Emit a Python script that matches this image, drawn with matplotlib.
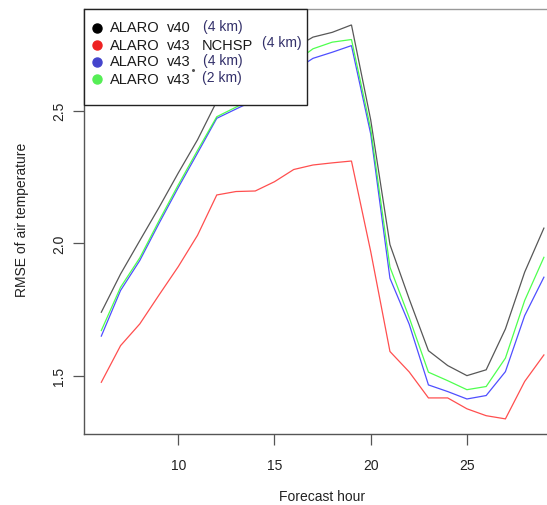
import matplotlib
matplotlib.use("Agg")
import matplotlib.pyplot as plt
from matplotlib.patches import Rectangle

plt.rcParams["font.family"] = ["Liberation Sans", "DejaVu Sans"]

hours = list(range(6, 30))
alaro_v40_4km = [1.740, 1.884, 2.010, 2.135, 2.265, 2.390, 2.535, 2.600, 2.650, 2.700, 2.735,
                 2.777, 2.795, 2.823, 2.465, 1.995, 1.790, 1.595, 1.539, 1.501, 1.523, 1.677,
                 1.891, 2.057]
alaro_v43_nchsp = [1.476, 1.614, 1.696, 1.805, 1.912, 2.030, 2.182, 2.195, 2.197, 2.232, 2.278,
                   2.295, 2.303, 2.310, 1.969, 1.592, 1.515, 1.417, 1.417, 1.376, 1.350, 1.338,
                   1.479, 1.579]
alaro_v43_4km = [1.650, 1.822, 1.935, 2.075, 2.210, 2.340, 2.471, 2.506, 2.540, 2.590, 2.650,
                 2.697, 2.720, 2.745, 2.412, 1.868, 1.695, 1.466, 1.441, 1.413, 1.426, 1.516,
                 1.727, 1.872]
alaro_v43_2km = [1.671, 1.834, 1.945, 2.085, 2.220, 2.350, 2.477, 2.513, 2.550, 2.610, 2.680,
                 2.733, 2.758, 2.768, 2.431, 1.910, 1.720, 1.514, 1.482, 1.448, 1.460, 1.567,
                 1.784, 1.947]

legend_model = ["ALARO", "ALARO", "ALARO", "ALARO"]
legend_version = ["v40", "v43", "v43", "v43"]
legend_extra = ["", "NCHSP", "", ""]
legend_res = ["(4 km)", "(4 km)", "(4 km)", "(2 km)"]
line_colors = ["#3a3a3a", "#ff3030", "#3030ff", "#30ff30"]
dot_colors = ["#000000", "#ee2222", "#4444cc", "#55ee55"]

xticks = [10, 15, 20, 25]
yticks = [1.5, 2.0, 2.5]

W, H = 547, 506
fig = plt.figure(figsize=(W / 100, H / 100), dpi=100)

def fx(px):
    return px / W

def fy(py):
    return 1 - py / H

ax_left, ax_right, ax_top, ax_bottom = 83.6, 561.6, 10, 435
ax = fig.add_axes([fx(ax_left), fy(ax_bottom), (ax_right - ax_left) / W, (ax_bottom - ax_top) / H])

series = [alaro_v40_4km, alaro_v43_nchsp, alaro_v43_4km, alaro_v43_2km]
for vals, c in zip(series, line_colors):
    ax.plot(hours, vals, color=c, lw=0.9, alpha=0.85, solid_joinstyle="miter")

ax.set_xlim(5.08, 29.92)
ax.set_ylim(1.281, 2.883)
ax.set_xticks(xticks)
ax.set_xticklabels([str(t) for t in xticks])
ax.set_yticks(yticks)
ax.set_yticklabels([f"{t:.1f}" for t in yticks], rotation=90, va="center")
ax.tick_params(axis="both", direction="out", length=8, width=0.9, color="#555555",
               labelsize=10, labelcolor="#222222")
ax.tick_params(axis="x", pad=9)
ax.tick_params(axis="y", pad=4.5)
for s in ["left", "bottom"]:
    ax.spines[s].set_color("#555555")
    ax.spines[s].set_linewidth(1.0)
ax.spines["top"].set_color("#999999")
ax.spines["top"].set_linewidth(1.0)
ax.spines["right"].set_visible(False)

fig.text(fx(322), fy(497), "Forecast hour", ha="center", va="center", fontsize=10, color="#222222")
fig.text(fx(22), fy(220), "RMSE of air temperature", ha="center", va="center",
         rotation=90, fontsize=10, color="#222222")

# legend box
rect = Rectangle((fx(83.6), fy(106)), fx(307) - fx(83.6), fy(10) - fy(106),
                 transform=fig.transFigure, facecolor="white", edgecolor="#222222",
                 linewidth=1.0, zorder=5)
fig.add_artist(rect)

row_y = [28.5, 45.5, 62.5, 79.5]
res_x = [203, 261.5, 203, 201.5]
res_dy = [-1.5, -2.5, -1.5, -1.5]
for i in range(4):
    fig.add_artist(plt.Line2D([fx(96.5)], [fy(row_y[i])], marker="o", markersize=6.5,
                              color=dot_colors[i], linestyle="none",
                              transform=fig.transFigure, zorder=6))
    fig.text(fx(110), fy(row_y[i]), legend_model[i], ha="left", va="center",
             fontsize=10.5, color="#1a1a1a", zorder=6)
    fig.text(fx(166.5), fy(row_y[i]), legend_version[i], ha="left", va="center",
             fontsize=10.5, color="#1a1a1a", zorder=6)
    if legend_extra[i]:
        fig.text(fx(202), fy(row_y[i]), legend_extra[i], ha="left", va="center",
                 fontsize=10.5, color="#1a1a1a", zorder=6)
    fig.text(fx(res_x[i]), fy(row_y[i] + res_dy[i]), legend_res[i], ha="left", va="center",
             fontsize=10, color="#33306a", zorder=6)
fig.add_artist(plt.Line2D([fx(193.3)], [fy(71)], marker="o", markersize=1.2,
                          color="#555555", linestyle="none", transform=fig.transFigure, zorder=6))

fig.savefig("out.png", dpi=100)
